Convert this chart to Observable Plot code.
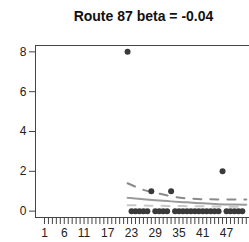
<!DOCTYPE html>
<html>
<head>
<meta charset="utf-8">
<script src="https://cdn.jsdelivr.net/npm/d3@7"></script>
<script src="https://cdn.jsdelivr.net/npm/@observablehq/plot@0.6"></script>
<style>
  html, body { margin: 0; padding: 0; background: #fff; }
  #title { width: 249px; height: 40px; box-sizing: border-box; padding-top: 8px; padding-left: 38px;
           text-align: center; font: bold 14px "Liberation Sans", Arial, sans-serif; line-height: 16px; color: #111; }
</style>
</head>
<body>
<div id="title">Route 87 beta = -0.04</div>
<div id="chart"></div>
<script>
// Observed counts per year index
const years  = [22,23,24,25,26,27,28,29,30,31,32,33,34,35,36,37,38,39,40,41,42,43,44,45,46,47,48,49,50,51];
const counts = [ 8, 0, 0, 0, 0, 0, 1, 0, 0, 0, 0, 1, 0, 0, 0, 0, 0, 0, 0, 0, 0, 0, 0, 0, 2, 0, 0, 0, 0, 0];

// Fitted trend and bounds
const fitYears = [22, 26, 29, 33, 37, 41, 45, 49, 52];
const fitMid   = [0.67, 0.60, 0.55, 0.49, 0.44, 0.39, 0.35, 0.33, 0.32];
const fitUpper = [1.40, 1.07, 0.92, 0.75, 0.64, 0.60, 0.59, 0.59, 0.59];
const fitLower = [0.30, 0.28, 0.27, 0.26, 0.25, 0.24, 0.23, 0.22, 0.22];

// Axis ticks
const xTicks = d3.range(1, 54);
const xLabels = [1, 6, 11, 17, 23, 29, 35, 41, 47];
const yTicks = [0, 2, 4, 6, 8];

const pts = years.map((x, i) => ({x, y: counts[i]}));
const fit = fitYears.map((x, i) => ({x, mid: fitMid[i], up: fitUpper[i], lo: fitLower[i]}));

const chart = Plot.plot({
  width: 249,
  height: 202,
  marginLeft: 35,
  marginRight: -3,
  marginTop: 5,
  marginBottom: 25,
  style: {fontFamily: "'Liberation Sans', Arial, sans-serif", fontSize: "12px", color: "#222", background: "#fff"},
  x: {domain: [-1.27, 53.57]},
  y: {domain: [-0.32, 8.32]},
  marks: [
    Plot.frame({stroke: "#444"}),
    Plot.line(fit, {x: "x", y: "lo", stroke: "#c8c8c8", strokeWidth: 2, strokeDasharray: "8,9", curve: "natural"}),
    Plot.line(fit, {x: "x", y: "mid", stroke: "#9a9a9a", strokeWidth: 2, curve: "natural"}),
    Plot.line(fit, {x: "x", y: "up", stroke: "#8a8a8a", strokeWidth: 2, strokeDasharray: "8,9", curve: "natural"}),
    Plot.dot(pts, {x: "x", y: "y", r: 3, fill: "#3a3a3a", stroke: null}),
    Plot.axisX({ticks: xTicks, tickFormat: d => xLabels.includes(d) ? String(d) : "", tickSize: 7, tickPadding: 4, stroke: "#444", fill: "#222", fontSize: 12, label: null}),
    Plot.axisY({ticks: yTicks, tickFormat: d => String(d), tickSize: 6, tickPadding: 3, stroke: "#444", fill: "#222", fontSize: 12, label: null})
  ]
});
document.getElementById("chart").appendChild(chart);
</script>
</body>
</html>
